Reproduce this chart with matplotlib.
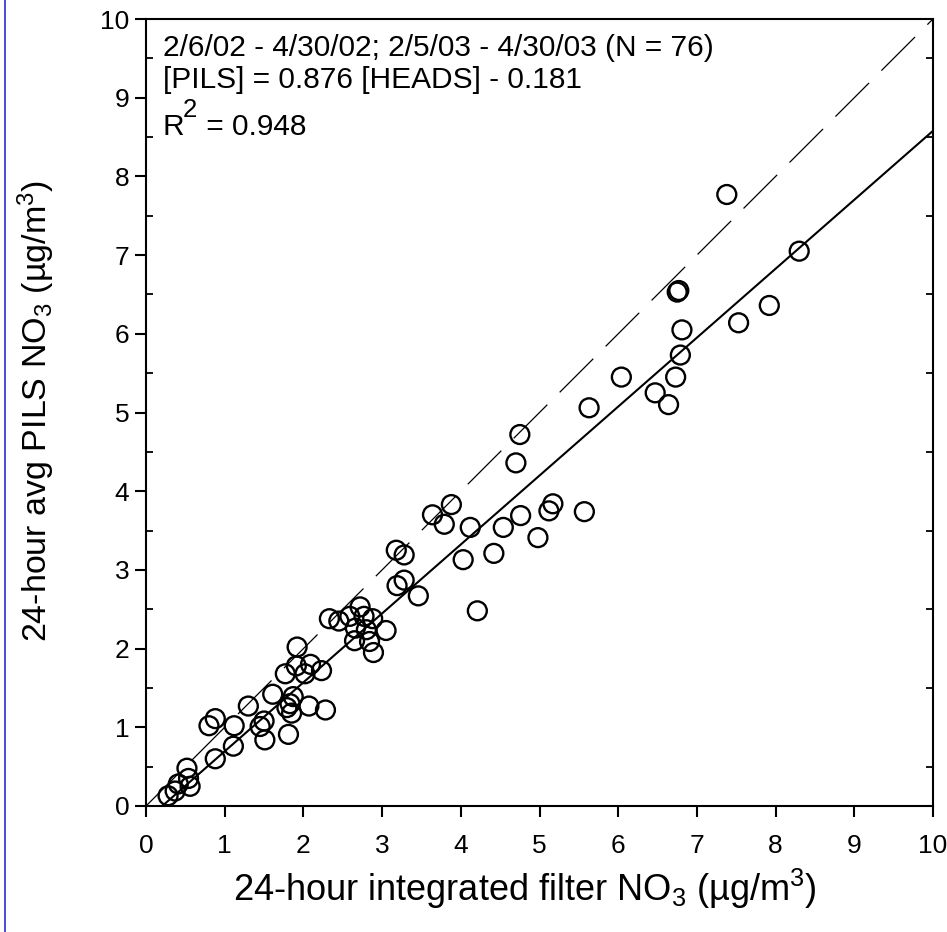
import matplotlib

matplotlib.use("Agg")

import matplotlib.pyplot as plt
from matplotlib.lines import Line2D
from matplotlib.ticker import MultipleLocator

plt.rcParams["font.family"] = ["Liberation Sans", "DejaVu Sans"]
plt.rcParams["mathtext.fontset"] = "custom"
plt.rcParams["mathtext.rm"] = "Liberation Sans"
plt.rcParams["mathtext.it"] = "Liberation Sans"
plt.rcParams["mathtext.default"] = "regular"

# 24-hour integrated filter NO3 (x) vs 24-hour avg PILS NO3 (y), ug/m3
filter_no3 = [
    0.28, 0.37, 0.41, 0.56, 0.54, 0.52, 0.88, 0.80, 0.88, 1.12,
    1.11, 1.30, 1.45, 1.50, 1.51, 1.61, 1.77, 1.79, 1.83, 1.85,
    1.87, 1.81, 2.07, 2.28, 1.91, 1.92, 2.02, 2.09, 2.23, 2.33,
    2.45, 2.59, 2.72, 2.77, 2.88, 2.66, 2.80, 3.05, 2.65, 2.84,
    2.89, 3.19, 3.28, 3.46, 3.18, 3.28, 3.64, 3.79, 3.88, 4.03,
    4.12, 4.21, 4.42, 4.54, 4.70, 4.75, 4.76, 4.98, 5.12, 5.17,
    5.57, 5.63, 6.04, 6.47, 6.64, 6.73, 6.79, 6.81, 6.75, 6.77,
    7.38, 7.53, 7.92, 8.30,
]
pils_no3 = [
    0.13, 0.19, 0.28, 0.25, 0.35, 0.48, 0.60, 1.02, 1.11, 1.02,
    0.76, 1.27, 1.01, 1.08, 0.84, 1.42, 1.68, 1.25, 1.30, 1.18,
    1.39, 0.91, 1.27, 1.22, 1.78, 2.02, 1.68, 1.80, 1.72, 2.38,
    2.35, 2.41, 2.53, 2.41, 2.38, 2.26, 2.24, 2.23, 2.10, 2.09,
    1.95, 2.80, 2.87, 2.67, 3.25, 3.19, 3.70, 3.58, 3.83, 3.13,
    3.54, 2.48, 3.21, 3.54, 4.36, 4.72, 3.69, 3.41, 3.75, 3.84,
    3.74, 5.06, 5.45, 5.25, 5.10, 5.45, 5.73, 6.05, 6.53, 6.55,
    7.77, 6.14, 6.36, 7.05,
]

slope = 0.876
intercept = -0.181
line_x = [0, 10]
one_to_one = [0, 10]
fit_y = [slope * v + intercept for v in line_x]

fig = plt.figure(figsize=(9.47, 9.32), dpi=100)
ax = fig.add_axes([0.1542, 0.1352, 0.8310, 0.8444])

ax.plot(line_x, one_to_one, color="black", lw=0.9, dashes=(38, 14))
ax.plot(line_x, fit_y, color="black", lw=1.5)
ax.scatter(filter_no3, pils_no3, s=185, facecolors="none", edgecolors="black",
           linewidths=1.7, zorder=3)

ax.set_xlim(0, 10)
ax.set_ylim(0, 10)
ax.xaxis.set_major_locator(MultipleLocator(1))
ax.yaxis.set_major_locator(MultipleLocator(1))
ax.yaxis.set_minor_locator(MultipleLocator(0.5))
ax.yaxis.set_minor_formatter(plt.NullFormatter())

for s in ax.spines.values():
    s.set_linewidth(1.5)

ax.tick_params(which="major", direction="out", length=8, width=1.5,
               labelsize=19, top=False, right=False)
ax.tick_params(axis="x", which="major", pad=12)
ax.tick_params(axis="y", which="major", pad=4)
ax.tick_params(axis="y", which="minor", direction="in", length=5, width=1.3,
               left=True, right=True)
ax.tick_params(axis="x", which="minor", bottom=False, top=False)

fig.text(525 / 947, 1 - 889 / 932, "24-hour integrated filter NO$_3$ (µg/m$^3$)",
         fontsize=26, ha="center", va="center")
fig.text(36 / 947, 1 - 411 / 932, "24-hour avg PILS NO$_3$ (µg/m$^3$)",
         fontsize=24.5, ha="center", va="center", rotation=90)

ax.text(0.215, 9.53, "2/6/02 - 4/30/02; 2/5/03 - 4/30/03 (N = 76)",
        fontsize=21.5, va="baseline", ha="left")
ax.text(0.215, 9.12, "[PILS] = 0.876 [HEADS] - 0.181",
        fontsize=21.5, va="baseline", ha="left")
ax.text(0.215, 8.53, "R", fontsize=21.5, va="baseline", ha="left")
ax.text(0.465, 8.76, "2", fontsize=18.5, va="baseline", ha="left")
ax.text(0.66, 8.53, " = 0.948", fontsize=21.5, va="baseline", ha="left")

# blue page-border line on the left edge
fig.add_artist(Line2D([5 / 947, 5 / 947], [0, 1], color="#2a2ad8", lw=1.2,
                      transform=fig.transFigure))

fig.savefig("out.png", dpi=100)
